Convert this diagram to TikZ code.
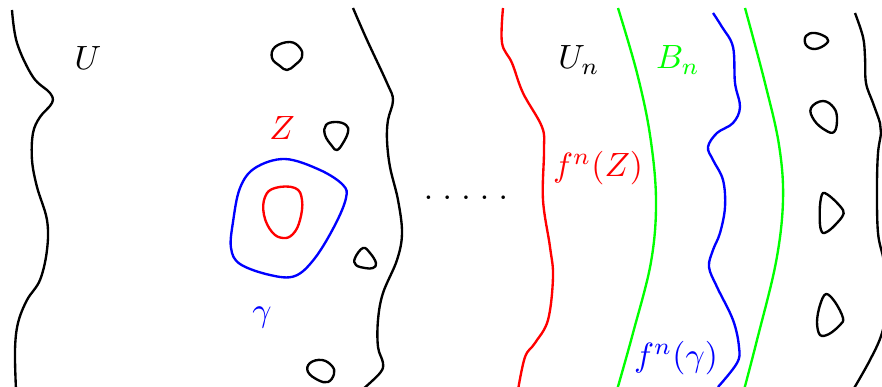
\documentclass[tikz,border=0pt]{standalone}
\begin{document}
\begin{tikzpicture}[x=0.01045cm,y=-0.01045cm,line join=round,
		bdry/.style={line width=0.7pt,black},
		hole/.style={line width=0.7pt,black},
		crv/.style={line width=0.7pt},
		lbl/.style={inner sep=0pt}]
		\useasboundingbox (0,0) rectangle (882,387);
		\clip (0,0) rectangle (882,387);
		
		% left boundary of U
		\draw[bdry] plot[smooth,tension=0.6] coordinates {(12,10) (17,43) (33,77) (50,93) (52,103) (40,117) (33,133) (32,160) (37,187) (47,220) (47,250) (40,280) (27,300) (18,323) (15,350) (16,390)};
		% right boundary of U
		\draw[bdry] plot[smooth,tension=0.6] coordinates {(353,8) (367,40) (387,83) (393,100) (388,120) (387,140) (390,167) (398,200) (402,233) (397,260) (383,293) (378,320) (378,347) (383,363) (380,373) (362,390)};
		
		% holes in U
		\draw[hole] plot[smooth cycle,tension=0.7] coordinates {(290,42) (300,48) (302,57) (295,65) (287,70) (280,66) (272,58) (275,47)};
		\draw[hole] plot[smooth cycle,tension=0.7] coordinates {(336,122) (346,125) (348,132) (343,143) (337,150) (332,146) (325,135) (326,125)};
		\draw[hole] plot[smooth cycle,tension=0.7] coordinates {(363,248) (370,253) (376,263) (373,268) (365,268) (356,265) (355,258)};
		\draw[hole] plot[smooth cycle,tension=0.7] coordinates {(322,360) (332,366) (334,374) (328,382) (318,380) (308,372) (310,363)};
		
		% gamma and Z
		\draw[crv,blue] plot[smooth cycle,tension=0.6] coordinates {(285,159) (320,170) (343,185) (346,198) (335,225) (315,258) (295,276) (270,275) (240,264) (231,248) (233,222) (240,188) (255,168)};
		\draw[crv,red] plot[smooth cycle,tension=0.7] coordinates {(295,188) (302,200) (300,220) (293,234) (283,238) (272,232) (264,215) (265,197) (275,188)};
		
		% labels
		\node[lbl] (U) at (88,58) {$U$};
		\node[lbl,red] (Z) at (282,128) {$Z$};
		\node[lbl,blue] (gam) at (262,318) {$\gamma$};
		\node[lbl,anchor=base] (dots) at (466,200) {$.\;.\;.\;.\;.$};
		
		% f^n(Z)
		\draw[crv,red] plot[smooth,tension=0.6] coordinates {(503,8) (502,43) (512,63) (523,93) (542,127) (544,150) (543,200) (550,247) (553,277) (548,320) (535,343) (525,357) (518,390)};
		% the band B_n
		\draw[crv,green] plot[smooth,tension=0.6] coordinates {(618,8) (637,73) (650,135) (656,200) (651,262) (633,333) (617,390)};
		\draw[crv,green] plot[smooth,tension=0.6] coordinates {(745,8) (765,83) (779,145) (783,200) (776,262) (757,340) (744,390)};
		% f^n(gamma)
		\draw[crv,blue] plot[smooth,tension=0.6] coordinates {(713,13) (722,27) (733,47) (735,83) (740,107) (733,123) (717,133) (708,147) (713,160) (723,180) (725,207) (720,233) (713,250) (709,267) (717,287) (733,320) (739,347) (737,363) (718,387)};
		% right boundary of U_n
		\draw[bdry] plot[smooth,tension=0.6] coordinates {(855,13) (863,37) (865,57) (866,83) (873,103) (880,123) (881,133) (878,153) (877,187) (878,233) (884,262) (888,300) (882,333) (870,360) (853,390)};
		
		% holes in U_n
		\draw[hole] plot[smooth cycle,tension=0.7] coordinates {(815,33) (827,38) (826,44) (815,49) (806,45) (806,36)};
		\draw[hole] plot[smooth cycle,tension=0.7] coordinates {(823,101) (834,108) (837,120) (834,132) (825,130) (814,120) (811,108)};
		\draw[hole] plot[smooth cycle,tension=0.5] coordinates {(823,193) (832,198) (843,210) (842,217) (831,229) (823,233) (820,225) (820,205)};
		\draw[hole] plot[smooth cycle,tension=0.6] coordinates {(826,294) (835,302) (843,318) (840,325) (829,334) (820,335) (817,322) (820,305)};
		
		% labels
		\node[lbl] (Un) at (579,60) {$U_n$};
		\node[lbl,green] (Bn) at (678,60) {$B_n$};
		\node[lbl,red] (fZ) at (598,168) {$f^n(Z)$};
		\node[lbl,blue] (fgam) at (676,358) {$f^n(\gamma)$};
	\end{tikzpicture}
\end{document}
